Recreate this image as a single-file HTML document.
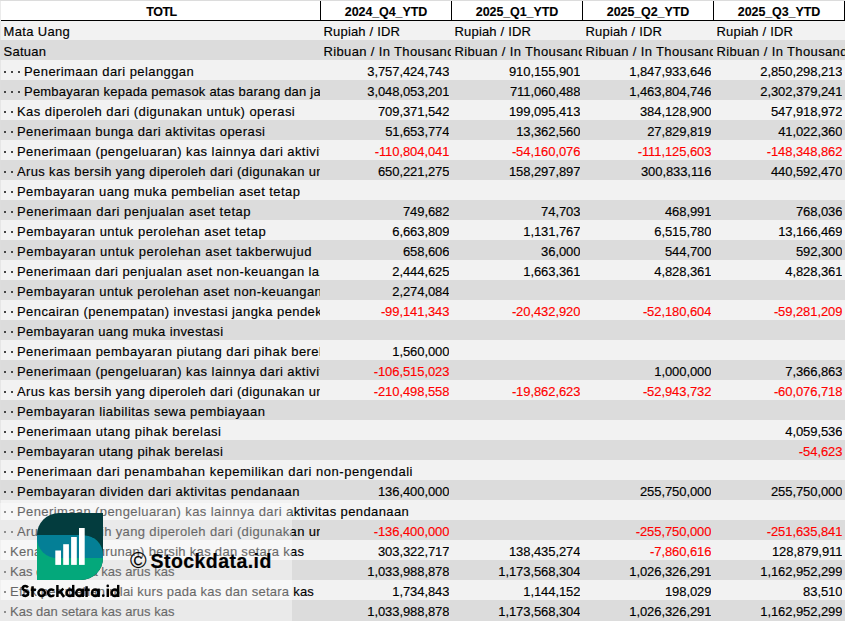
<!DOCTYPE html>
<html><head><meta charset="utf-8"><style>
*{margin:0;padding:0;box-sizing:border-box}
html,body{width:845px;height:621px;overflow:hidden;background:#fff}
body{position:relative;font-family:"Liberation Sans",sans-serif;font-size:13px;color:#000;-webkit-text-stroke:0.15px currentColor}
.r{position:absolute;left:0;width:845px;height:20px}
.t{position:absolute;white-space:nowrap;overflow:hidden;line-height:20px;height:20px;top:1px}
.lb{letter-spacing:0.4px}
.n{text-align:right;letter-spacing:-0.08px}
.neg{color:#f00}
.h{position:absolute;top:1px;height:19px;line-height:23px;text-align:center;font-weight:bold;font-size:12.5px;letter-spacing:-0.1px;background:#fff;-webkit-text-stroke:0.1px #000}
.vl{position:absolute;top:1px;width:1px;height:20px;background:#000}
.dot{position:absolute;width:2px;height:2px;background:#444}
</style></head><body>

<div style="position:absolute;left:0;top:0;width:845px;height:1px;background:#dcdcdc"></div>
<div class="h" style="left:2px;width:319px;letter-spacing:-0.5px">TOTL</div>
<div class="h" style="left:321px;width:130px">2024_Q4_YTD</div>
<div class="h" style="left:452px;width:130px">2025_Q1_YTD</div>
<div class="h" style="left:583px;width:130px">2025_Q2_YTD</div>
<div class="h" style="left:714px;width:130px">2025_Q3_YTD</div>
<div style="position:absolute;left:1px;top:20px;width:844px;height:1px;background:#000"></div>
<div class="vl" style="left:320px"></div>
<div class="vl" style="left:451px"></div>
<div class="vl" style="left:582px"></div>
<div class="vl" style="left:713px"></div>
<div class="vl" style="left:844px"></div>
<div class="r" style="top:21px;height:19px;background:#f2f2f2"></div>
<div class="t" style="left:3.5px;top:22px;letter-spacing:0.33px">Mata Uang</div>
<div class="t" style="left:323.5px;top:22px;letter-spacing:0.18px">Rupiah / IDR</div>
<div class="t" style="left:454.5px;top:22px;letter-spacing:0.18px">Rupiah / IDR</div>
<div class="t" style="left:585.5px;top:22px;letter-spacing:0.18px">Rupiah / IDR</div>
<div class="t" style="left:716.5px;top:22px;letter-spacing:0.18px">Rupiah / IDR</div>
<div class="r" style="top:40px;background:#dcdcdc"></div>
<div class="t" style="left:3.5px;top:42px;letter-spacing:0.24px">Satuan</div>
<div class="t" style="left:323.5px;width:127.5px;top:42px;letter-spacing:0.36px">Ribuan / In Thousand</div>
<div class="t" style="left:454.5px;width:127.5px;top:42px;letter-spacing:0.36px">Ribuan / In Thousand</div>
<div class="t" style="left:585.5px;width:127.5px;top:42px;letter-spacing:0.36px">Ribuan / In Thousand</div>
<div class="t" style="left:716.5px;width:130.5px;top:42px;letter-spacing:0.36px">Ribuan / In Thousand</div>
<div class="r" style="top:60px;background:#f2f2f2"></div>
<div class="dot" style="left:4px;top:71px"></div>
<div class="dot" style="left:11px;top:71px"></div>
<div class="dot" style="left:18px;top:71px"></div>
<div class="t" style="left:24px;width:296px;top:62px;letter-spacing:0.417px">Penerimaan dari pelanggan</div>
<div class="t n" style="left:321px;width:128.4px;top:62px">3,757,424,743</div>
<div class="t n" style="left:452px;width:128.4px;top:62px">910,155,901</div>
<div class="t n" style="left:583px;width:128.4px;top:62px">1,847,933,646</div>
<div class="t n" style="left:714px;width:128.4px;top:62px">2,850,298,213</div>
<div class="r" style="top:80px;background:#dcdcdc"></div>
<div class="dot" style="left:4px;top:91px"></div>
<div class="dot" style="left:11px;top:91px"></div>
<div class="dot" style="left:18px;top:91px"></div>
<div class="t" style="left:24px;width:296px;top:82px;letter-spacing:0.209px">Pembayaran kepada pemasok atas barang dan jasa</div>
<div class="t n" style="left:321px;width:128.4px;top:82px">3,048,053,201</div>
<div class="t n" style="left:452px;width:128.4px;top:82px">711,060,488</div>
<div class="t n" style="left:583px;width:128.4px;top:82px">1,463,804,746</div>
<div class="t n" style="left:714px;width:128.4px;top:82px">2,302,379,241</div>
<div class="r" style="top:100px;background:#f2f2f2"></div>
<div class="dot" style="left:4px;top:111px"></div>
<div class="dot" style="left:11px;top:111px"></div>
<div class="t" style="left:17px;width:303px;top:102px;letter-spacing:0.442px">Kas diperoleh dari (digunakan untuk) operasi</div>
<div class="t n" style="left:321px;width:128.4px;top:102px">709,371,542</div>
<div class="t n" style="left:452px;width:128.4px;top:102px">199,095,413</div>
<div class="t n" style="left:583px;width:128.4px;top:102px">384,128,900</div>
<div class="t n" style="left:714px;width:128.4px;top:102px">547,918,972</div>
<div class="r" style="top:120px;background:#dcdcdc"></div>
<div class="dot" style="left:4px;top:131px"></div>
<div class="dot" style="left:11px;top:131px"></div>
<div class="t" style="left:17px;width:303px;top:122px;letter-spacing:0.421px">Penerimaan bunga dari aktivitas operasi</div>
<div class="t n" style="left:321px;width:128.4px;top:122px">51,653,774</div>
<div class="t n" style="left:452px;width:128.4px;top:122px">13,362,560</div>
<div class="t n" style="left:583px;width:128.4px;top:122px">27,829,819</div>
<div class="t n" style="left:714px;width:128.4px;top:122px">41,022,360</div>
<div class="r" style="top:140px;background:#f2f2f2"></div>
<div class="dot" style="left:4px;top:151px"></div>
<div class="dot" style="left:11px;top:151px"></div>
<div class="t" style="left:17px;width:303px;top:142px;letter-spacing:0.43px">Penerimaan (pengeluaran) kas lainnya dari aktivitas operasi</div>
<div class="t n neg" style="left:321px;width:128.4px;top:142px">-110,804,041</div>
<div class="t n neg" style="left:452px;width:128.4px;top:142px">-54,160,076</div>
<div class="t n neg" style="left:583px;width:128.4px;top:142px">-111,125,603</div>
<div class="t n neg" style="left:714px;width:128.4px;top:142px">-148,348,862</div>
<div class="r" style="top:160px;background:#dcdcdc"></div>
<div class="dot" style="left:4px;top:171px"></div>
<div class="dot" style="left:11px;top:171px"></div>
<div class="t" style="left:17px;width:303px;top:162px;letter-spacing:0.348px">Arus kas bersih yang diperoleh dari (digunakan untuk) aktivitas operasi</div>
<div class="t n" style="left:321px;width:128.4px;top:162px">650,221,275</div>
<div class="t n" style="left:452px;width:128.4px;top:162px">158,297,897</div>
<div class="t n" style="left:583px;width:128.4px;top:162px">300,833,116</div>
<div class="t n" style="left:714px;width:128.4px;top:162px">440,592,470</div>
<div class="r" style="top:180px;background:#f2f2f2"></div>
<div class="dot" style="left:4px;top:191px"></div>
<div class="dot" style="left:11px;top:191px"></div>
<div class="t" style="left:17px;top:182px;letter-spacing:0.425px">Pembayaran uang muka pembelian aset tetap</div>
<div class="r" style="top:200px;background:#dcdcdc"></div>
<div class="dot" style="left:4px;top:211px"></div>
<div class="dot" style="left:11px;top:211px"></div>
<div class="t" style="left:17px;width:303px;top:202px;letter-spacing:0.497px">Penerimaan dari penjualan aset tetap</div>
<div class="t n" style="left:321px;width:128.4px;top:202px">749,682</div>
<div class="t n" style="left:452px;width:128.4px;top:202px">74,703</div>
<div class="t n" style="left:583px;width:128.4px;top:202px">468,991</div>
<div class="t n" style="left:714px;width:128.4px;top:202px">768,036</div>
<div class="r" style="top:220px;background:#f2f2f2"></div>
<div class="dot" style="left:4px;top:231px"></div>
<div class="dot" style="left:11px;top:231px"></div>
<div class="t" style="left:17px;width:303px;top:222px;letter-spacing:0.483px">Pembayaran untuk perolehan aset tetap</div>
<div class="t n" style="left:321px;width:128.4px;top:222px">6,663,809</div>
<div class="t n" style="left:452px;width:128.4px;top:222px">1,131,767</div>
<div class="t n" style="left:583px;width:128.4px;top:222px">6,515,780</div>
<div class="t n" style="left:714px;width:128.4px;top:222px">13,166,469</div>
<div class="r" style="top:240px;background:#dcdcdc"></div>
<div class="dot" style="left:4px;top:251px"></div>
<div class="dot" style="left:11px;top:251px"></div>
<div class="t" style="left:17px;width:303px;top:242px;letter-spacing:0.524px">Pembayaran untuk perolehan aset takberwujud</div>
<div class="t n" style="left:321px;width:128.4px;top:242px">658,606</div>
<div class="t n" style="left:452px;width:128.4px;top:242px">36,000</div>
<div class="t n" style="left:583px;width:128.4px;top:242px">544,700</div>
<div class="t n" style="left:714px;width:128.4px;top:242px">592,300</div>
<div class="r" style="top:260px;background:#f2f2f2"></div>
<div class="dot" style="left:4px;top:271px"></div>
<div class="dot" style="left:11px;top:271px"></div>
<div class="t" style="left:17px;width:303px;top:262px;letter-spacing:0.4px">Penerimaan dari penjualan aset non-keuangan lainnya</div>
<div class="t n" style="left:321px;width:128.4px;top:262px">2,444,625</div>
<div class="t n" style="left:452px;width:128.4px;top:262px">1,663,361</div>
<div class="t n" style="left:583px;width:128.4px;top:262px">4,828,361</div>
<div class="t n" style="left:714px;width:128.4px;top:262px">4,828,361</div>
<div class="r" style="top:280px;background:#dcdcdc"></div>
<div class="dot" style="left:4px;top:291px"></div>
<div class="dot" style="left:11px;top:291px"></div>
<div class="t" style="left:17px;width:303px;top:282px;letter-spacing:0.449px">Pembayaran untuk perolehan aset non-keuangan lainnya</div>
<div class="t n" style="left:321px;width:128.4px;top:282px">2,274,084</div>
<div class="r" style="top:300px;background:#f2f2f2"></div>
<div class="dot" style="left:4px;top:311px"></div>
<div class="dot" style="left:11px;top:311px"></div>
<div class="t" style="left:17px;width:303px;top:302px;letter-spacing:0.429px">Pencairan (penempatan) investasi jangka pendek</div>
<div class="t n neg" style="left:321px;width:128.4px;top:302px">-99,141,343</div>
<div class="t n neg" style="left:452px;width:128.4px;top:302px">-20,432,920</div>
<div class="t n neg" style="left:583px;width:128.4px;top:302px">-52,180,604</div>
<div class="t n neg" style="left:714px;width:128.4px;top:302px">-59,281,209</div>
<div class="r" style="top:320px;background:#dcdcdc"></div>
<div class="dot" style="left:4px;top:331px"></div>
<div class="dot" style="left:11px;top:331px"></div>
<div class="t" style="left:17px;top:322px;letter-spacing:0.352px">Pembayaran uang muka investasi</div>
<div class="r" style="top:340px;background:#f2f2f2"></div>
<div class="dot" style="left:4px;top:351px"></div>
<div class="dot" style="left:11px;top:351px"></div>
<div class="t" style="left:17px;width:303px;top:342px;letter-spacing:0.448px">Penerimaan pembayaran piutang dari pihak berelasi</div>
<div class="t n" style="left:321px;width:128.4px;top:342px">1,560,000</div>
<div class="r" style="top:360px;background:#dcdcdc"></div>
<div class="dot" style="left:4px;top:371px"></div>
<div class="dot" style="left:11px;top:371px"></div>
<div class="t" style="left:17px;width:303px;top:362px;letter-spacing:0.43px">Penerimaan (pengeluaran) kas lainnya dari aktivitas investasi</div>
<div class="t n neg" style="left:321px;width:128.4px;top:362px">-106,515,023</div>
<div class="t n" style="left:583px;width:128.4px;top:362px">1,000,000</div>
<div class="t n" style="left:714px;width:128.4px;top:362px">7,366,863</div>
<div class="r" style="top:380px;background:#f2f2f2"></div>
<div class="dot" style="left:4px;top:391px"></div>
<div class="dot" style="left:11px;top:391px"></div>
<div class="t" style="left:17px;width:303px;top:382px;letter-spacing:0.348px">Arus kas bersih yang diperoleh dari (digunakan untuk) aktivitas investasi</div>
<div class="t n neg" style="left:321px;width:128.4px;top:382px">-210,498,558</div>
<div class="t n neg" style="left:452px;width:128.4px;top:382px">-19,862,623</div>
<div class="t n neg" style="left:583px;width:128.4px;top:382px">-52,943,732</div>
<div class="t n neg" style="left:714px;width:128.4px;top:382px">-60,076,718</div>
<div class="r" style="top:400px;background:#dcdcdc"></div>
<div class="dot" style="left:4px;top:411px"></div>
<div class="dot" style="left:11px;top:411px"></div>
<div class="t" style="left:17px;top:402px;letter-spacing:0.444px">Pembayaran liabilitas sewa pembiayaan</div>
<div class="r" style="top:420px;background:#f2f2f2"></div>
<div class="dot" style="left:4px;top:431px"></div>
<div class="dot" style="left:11px;top:431px"></div>
<div class="t" style="left:17px;width:303px;top:422px;letter-spacing:0.463px">Penerimaan utang pihak berelasi</div>
<div class="t n" style="left:714px;width:128.4px;top:422px">4,059,536</div>
<div class="r" style="top:440px;background:#dcdcdc"></div>
<div class="dot" style="left:4px;top:451px"></div>
<div class="dot" style="left:11px;top:451px"></div>
<div class="t" style="left:17px;width:303px;top:442px;letter-spacing:0.407px">Pembayaran utang pihak berelasi</div>
<div class="t n neg" style="left:714px;width:128.4px;top:442px">-54,623</div>
<div class="r" style="top:460px;background:#f2f2f2"></div>
<div class="dot" style="left:4px;top:471px"></div>
<div class="dot" style="left:11px;top:471px"></div>
<div class="t" style="left:17px;top:462px;letter-spacing:0.523px">Penerimaan dari penambahan kepemilikan dari non-pengendali</div>
<div class="r" style="top:480px;background:#dcdcdc"></div>
<div class="dot" style="left:4px;top:491px"></div>
<div class="dot" style="left:11px;top:491px"></div>
<div class="t" style="left:17px;width:303px;top:482px;letter-spacing:0.464px">Pembayaran dividen dari aktivitas pendanaan</div>
<div class="t n" style="left:321px;width:128.4px;top:482px">136,400,000</div>
<div class="t n" style="left:583px;width:128.4px;top:482px">255,750,000</div>
<div class="t n" style="left:714px;width:128.4px;top:482px">255,750,000</div>
<div class="r" style="top:500px;background:#f2f2f2"></div>
<div class="dot" style="left:4px;top:511px"></div>
<div class="dot" style="left:11px;top:511px"></div>
<div class="t" style="left:17px;top:502px;letter-spacing:0.4px">Penerimaan (pengeluaran) kas lainnya dari aktivitas pendanaan</div>
<div class="r" style="top:520px;background:#dcdcdc"></div>
<div class="dot" style="left:4px;top:531px"></div>
<div class="dot" style="left:11px;top:531px"></div>
<div class="t" style="left:17px;width:303px;top:522px;letter-spacing:0.348px">Arus kas bersih yang diperoleh dari (digunakan untuk) aktivitas pendanaan</div>
<div class="t n neg" style="left:321px;width:128.4px;top:522px">-136,400,000</div>
<div class="t n neg" style="left:583px;width:128.4px;top:522px">-255,750,000</div>
<div class="t n neg" style="left:714px;width:128.4px;top:522px">-251,635,841</div>
<div class="r" style="top:540px;background:#f2f2f2"></div>
<div class="dot" style="left:4px;top:551px"></div>
<div class="t" style="left:10px;width:310px;top:542px;letter-spacing:0.304px">Kenaikan (penurunan) bersih kas dan setara kas</div>
<div class="t n" style="left:321px;width:128.4px;top:542px">303,322,717</div>
<div class="t n" style="left:452px;width:128.4px;top:542px">138,435,274</div>
<div class="t n neg" style="left:583px;width:128.4px;top:542px">-7,860,616</div>
<div class="t n" style="left:714px;width:128.4px;top:542px">128,879,911</div>
<div class="r" style="top:560px;background:#dcdcdc"></div>
<div class="dot" style="left:4px;top:571px"></div>
<div class="t" style="left:10px;width:310px;top:562px;letter-spacing:0.015px">Kas dan setara kas arus kas</div>
<div class="t n" style="left:321px;width:128.4px;top:562px">1,033,988,878</div>
<div class="t n" style="left:452px;width:128.4px;top:562px">1,173,568,304</div>
<div class="t n" style="left:583px;width:128.4px;top:562px">1,026,326,291</div>
<div class="t n" style="left:714px;width:128.4px;top:562px">1,162,952,299</div>
<div class="r" style="top:580px;background:#f2f2f2"></div>
<div class="dot" style="left:4px;top:591px"></div>
<div class="t" style="left:10px;width:310px;top:582px;letter-spacing:0.248px">Efek perubahan nilai kurs pada kas dan setara kas</div>
<div class="t n" style="left:321px;width:128.4px;top:582px">1,734,843</div>
<div class="t n" style="left:452px;width:128.4px;top:582px">1,144,152</div>
<div class="t n" style="left:583px;width:128.4px;top:582px">198,029</div>
<div class="t n" style="left:714px;width:128.4px;top:582px">83,510</div>
<div class="r" style="height:21px;top:600px;background:#dcdcdc"></div>
<div class="dot" style="left:4px;top:611px"></div>
<div class="t" style="left:10px;width:310px;top:602px;letter-spacing:0.015px">Kas dan setara kas arus kas</div>
<div class="t n" style="left:321px;width:128.4px;top:602px">1,033,988,878</div>
<div class="t n" style="left:452px;width:128.4px;top:602px">1,173,568,304</div>
<div class="t n" style="left:583px;width:128.4px;top:602px">1,026,326,291</div>
<div class="t n" style="left:714px;width:128.4px;top:602px">1,162,952,299</div>
<div style="position:absolute;left:0;top:0;width:1px;height:621px;background:#dedede;opacity:0.6"></div>
<div style="position:absolute;left:0;top:503px;width:292px;height:118px;background:rgba(255,255,255,0.4)"></div>
<svg style="position:absolute;left:0;top:0" width="845" height="621" viewBox="0 0 845 621">
<path d="M59,513 H103 V558 A22,22 0 0 1 81,580 H37 V535 A22,22 0 0 1 59,513 Z" fill="#033c3e"/>
<path d="M37,538 H103 V558 A22,22 0 0 1 81,580 H37 Z" fill="#04a87b"/>
<path d="M37,535 H83 A20,20 0 0 1 103,555 V558 H57 A20,20 0 0 1 37,538 Z" fill="#047f96"/>
<path d="M83,535 A20,20 0 0 1 103,555 V535 Z" fill="#033c3e"/>
<rect x="55.3" y="550.5" width="5.7" height="14.4" fill="#fff"/>
<rect x="63.2" y="544.2" width="5.7" height="20.7" fill="#fff"/>
<rect x="71.1" y="537" width="5.7" height="27.9" fill="#fff"/>
<rect x="79" y="528" width="5.7" height="36.9" fill="#fff"/>
</svg>
<svg style="position:absolute;left:0;top:0" width="845" height="621" viewBox="0 0 845 621"><g fill="none" stroke="#000" stroke-width="2.45">
<path d="M27.9,587.5 C27.3,586.5 26.4,586 25.3,586 C23.8,586 22.7,586.9 22.7,588.3 C22.7,591.2 28.1,590.2 28.1,593.3 C28.1,594.9 26.9,595.9 25.3,595.9 C24,595.9 23,595.3 22.4,594.3"/>
<path d="M32.6,586.3 V597 M30.8,589.7 H35.9"/>
<circle cx="41.65" cy="592.8" r="3.25"/>
<path d="M53.9,594.95 A3.35,3.35 0 1 1 53.9,590.65"/>
<path d="M57.4,584.9 V597 M63.4,588.6 L58.3,593 M60.2,591.5 L64,597"/>
<circle cx="69.85" cy="592.8" r="3.25"/><path d="M73.2,584.9 V597"/>
<circle cx="79.45" cy="592.8" r="3.25"/><path d="M82.8,588.6 V597"/>
<path d="M86.6,586.3 V597 M84.6,589.7 H89.7"/>
<circle cx="95.25" cy="592.8" r="3.25"/><path d="M98.6,588.6 V597"/>
<path d="M107.75,588.6 V597"/>
<circle cx="114.85" cy="592.8" r="3.25"/><path d="M118.2,584.9 V597"/>
</g><g fill="#000"><circle cx="103.25" cy="595.7" r="1.35"/><circle cx="107.75" cy="585.9" r="1.35"/></g></svg>
<div style="position:absolute;left:130px;top:550px;font-weight:normal;font-size:22.5px;line-height:22px;white-space:nowrap;-webkit-text-stroke:0.1px #000">&#169;</div>
<div style="position:absolute;left:150.5px;top:550px;font-weight:bold;font-size:19.5px;letter-spacing:0.45px;line-height:22px;white-space:nowrap;-webkit-text-stroke:0.2px #000">Stockdata.id</div>
</body></html>
